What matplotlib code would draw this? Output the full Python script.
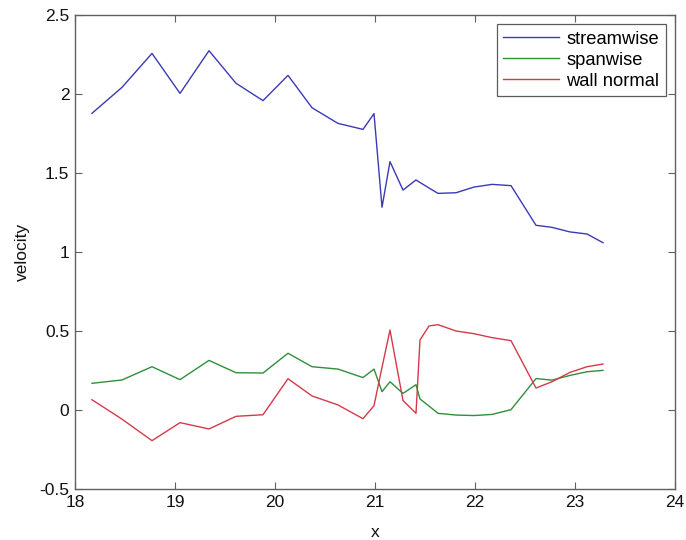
import matplotlib
matplotlib.use("Agg")
import matplotlib.pyplot as plt

x = [18.17, 18.47, 18.77, 19.05, 19.34, 19.61, 19.88, 20.13, 20.37, 20.63,
     20.88, 20.99, 21.07, 21.15, 21.28, 21.41, 21.45, 21.54, 21.63, 21.81,
     21.99, 22.17, 22.36, 22.61, 22.77, 22.95, 23.12, 23.28]
streamwise = [1.878, 2.042, 2.257, 2.004, 2.274, 2.068, 1.958, 2.118, 1.913, 1.814,
              1.776, 1.876, 1.283, 1.572, 1.392, 1.456, 1.440, 1.405, 1.371, 1.375,
              1.411, 1.428, 1.420, 1.169, 1.156, 1.127, 1.114, 1.059]
spanwise = [0.169, 0.190, 0.274, 0.192, 0.314, 0.236, 0.234, 0.359, 0.274, 0.259,
            0.205, 0.259, 0.116, 0.179, 0.105, 0.160, 0.070, 0.025, -0.021, -0.032,
            -0.035, -0.028, 0.002, 0.199, 0.189, 0.219, 0.242, 0.251]
wall_normal = [0.065, -0.058, -0.194, -0.080, -0.120, -0.040, -0.030, 0.198, 0.089, 0.032,
               -0.055, 0.027, 0.27, 0.506, 0.060, -0.021, 0.443, 0.532, 0.540, 0.500,
               0.483, 0.458, 0.439, 0.139, 0.179, 0.238, 0.274, 0.291]
labels = ["streamwise", "spanwise", "wall normal"]
xticks = [18, 19, 20, 21, 22, 23, 24]
yticks = [-0.5, 0, 0.5, 1, 1.5, 2, 2.5]

plt.rcParams['font.family'] = ['Liberation Sans', 'DejaVu Sans']
fig = plt.figure(figsize=(6.86, 5.40), dpi=100)
ax = fig.add_axes([75/686, 51/540, 600/686, 474/540])

ax.plot(x, streamwise, color='#3a3ab8', lw=1.0, label=labels[0])
ax.plot(x, spanwise, color='#2f8f3a', lw=1.0, label=labels[1])
ax.plot(x, wall_normal, color='#d43a4a', lw=1.0, label=labels[2])

ax.set_xlim(18, 24)
ax.set_ylim(-0.5, 2.5)
ax.set_xticks(xticks)
ax.set_xticklabels([str(t) for t in xticks])
ax.set_yticks(yticks)
ax.set_yticklabels(['-0.5', '0', '0.5', '1', '1.5', '2', '2.5'])
ax.tick_params(direction='in', length=5, width=0.8, top=True, right=True,
               labelsize=12.5, color='#606060', labelcolor='#111111', pad=4)
for s in ax.spines.values():
    s.set_color('#606060')
    s.set_linewidth(1.0)
ax.set_xlabel('x', fontsize=12.5, color='#111111', labelpad=11)
ax.set_ylabel('velocity', fontsize=12.5, color='#111111', labelpad=7)

leg = ax.legend(loc='upper right', fontsize=13.2, frameon=True, fancybox=False,
                handlelength=3.05, handletextpad=0.4, borderpad=0.35, labelspacing=0.22,
                borderaxespad=0.5, edgecolor='#333333')
leg.get_frame().set_linewidth(0.9)

fig.savefig('out.png', dpi=100)
